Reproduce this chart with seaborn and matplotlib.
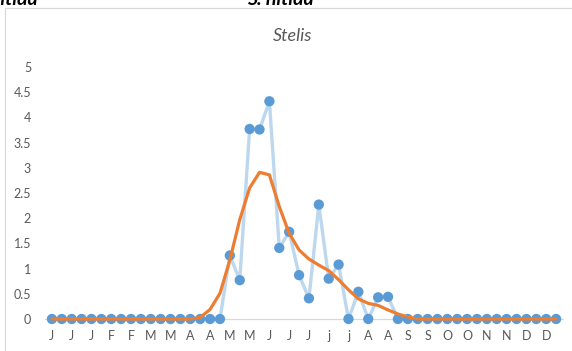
import matplotlib
matplotlib.use("Agg")
import matplotlib.pyplot as plt
from matplotlib.lines import Line2D
import seaborn as sns
import numpy as np
import pandas as pd

# ---- data ----
week_labels = ["J", "J", "J", "F", "F", "M", "M", "A", "A", "M", "M", "J", "J",
               "J", "j", "j", "A", "A", "S", "S", "O", "O", "N", "N", "D", "D"]
observed = [0, 0, 0, 0, 0, 0, 0, 0, 0, 0, 0, 0, 0, 0, 0, 0, 0, 0,
            1.26, 0.77, 3.77, 3.76, 4.32, 1.41, 1.73, 0.87, 0.41, 2.27,
            0.80, 1.08, 0, 0.54, 0, 0.43, 0.44,
            0, 0, 0, 0, 0, 0, 0, 0, 0, 0, 0, 0, 0, 0, 0, 0, 0]
smoothed = [0, 0, 0, 0, 0, 0, 0, 0, 0, 0, 0, 0, 0, 0, 0, 0.03, 0.19, 0.51,
            1.17, 1.97, 2.60, 2.91, 2.86, 2.23, 1.70, 1.37, 1.19, 1.07,
            0.96, 0.78, 0.58, 0.40, 0.31, 0.27, 0.18, 0.10, 0.04,
            0, 0, 0, 0, 0, 0, 0, 0, 0, 0, 0, 0, 0, 0, 0]
title = "Stelis"
top_texts = ["S. nitida", "S. nitida"]

df = pd.DataFrame({"week": np.arange(len(observed)),
                   "observed": observed, "smoothed": smoothed})

sns.set_theme(style="white")
plt.rcParams['font.family'] = ['Lato', 'DejaVu Sans']

fig = plt.figure(figsize=(5.72, 3.51), dpi=100)
ax = fig.add_axes([45 / 572, 1 - 319 / 351, (563 - 45) / 572, (319 - 67) / 351])

sns.lineplot(data=df, x="week", y="observed", ax=ax, color="#BDD7EE",
             linewidth=2.4, zorder=2)
sns.scatterplot(data=df, x="week", y="observed", ax=ax, color="#5B9BD5",
                s=55, edgecolor="none", zorder=3, clip_on=False)
sns.lineplot(data=df, x="week", y="smoothed", ax=ax, color="#ED7D31",
             linewidth=2.3, zorder=4)
for ln in ax.lines:
    ln.set_clip_on(False)
    ln.set_solid_capstyle("round")
    ln.set_solid_joinstyle("round")

ax.set_xlim(-0.7, 51.7)
ax.set_ylim(0, 5)
ax.set_yticks(np.arange(0, 5.01, 0.5))
ax.set_yticklabels(["0", "0.5", "1", "1.5", "2", "2.5", "3", "3.5", "4", "4.5", "5"])
ax.set_xticks(np.arange(0, 52, 2))
ax.set_xticklabels(week_labels)
ax.tick_params(axis="both", length=0, labelsize=9, colors="#595959")
ax.tick_params(axis="y", pad=10)
ax.tick_params(axis="x", pad=8)
ax.set_xlabel("")
ax.set_ylabel("")
for side in ["top", "right", "left"]:
    ax.spines[side].set_visible(False)
ax.spines["bottom"].set_color("#D9D9D9")
ax.spines["bottom"].set_linewidth(0.9)
ax.spines["bottom"].set_zorder(1)

fig.text(293 / 572, 1 - 36 / 351, title, ha="center", va="center",
         fontsize=13, style="italic", color="#595959")

# chart-area border (left and top)
fig.add_artist(Line2D([5 / 572, 5 / 572], [0, 1 - 8 / 351], color="#D9D9D9",
                      linewidth=0.9, transform=fig.transFigure))
fig.add_artist(Line2D([5 / 572, 1], [1 - 8 / 351, 1 - 8 / 351], color="#D9D9D9",
                      linewidth=0.9, transform=fig.transFigure))

# clipped headings from the neighbouring charts
fig.text(38 / 572, 1 - 5 / 351, top_texts[0], ha="right", va="baseline",
         fontsize=14, fontweight="bold", style="italic", color="black")
fig.text(280 / 572, 1 - 5 / 351, top_texts[1], ha="center", va="baseline",
         fontsize=14, fontweight="bold", style="italic", color="black")

fig.savefig("out.png", dpi=100)
